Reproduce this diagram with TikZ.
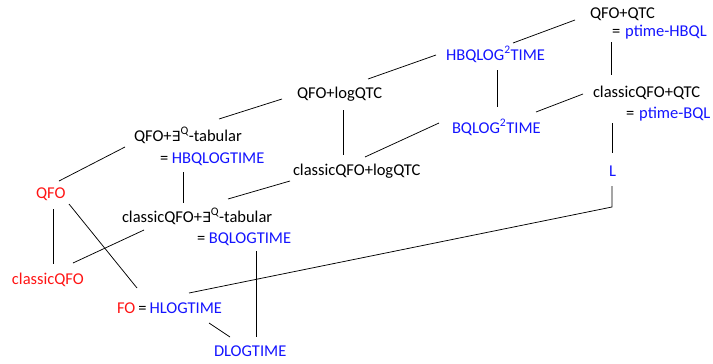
\documentclass[tikz,border=0pt]{standalone}
\usepackage{fontspec}
\setmainfont{Carlito}
\newfontfamily\dejavu{DejaVu Sans}
\usetikzlibrary{calc}
\definecolor{cblue}{RGB}{20,20,255}
\definecolor{cred}{RGB}{255,20,20}
\tikzset{
  lbl/.style={anchor=base west, inner sep=0pt, outer sep=0pt, font=\fontsize{16.5}{19}\selectfont},
  edge/.style={draw=black, line width=0.75pt},
}
\newcommand{\exq}{{\dejavu\fontsize{14}{16}\selectfont ∃}\textsuperscript{Q}}
\newcommand{\sqtwo}{\textsuperscript{2}}
\begin{document}
\begin{tikzpicture}[x=1pt,y=-1pt]
\useasboundingbox (0,0) rectangle (713,364);
\node[lbl] (qtc) at (590,18) {QFO+QTC};
\node[lbl] (phbql) at (612,36) {=\hspace{0.3em}\textcolor{cblue}{ptime-HBQL}};
\node[lbl,text=cblue] (hb2) at (446,60) {HBQLOG\sqtwo TIME};
\node[lbl] (lqtc) at (297,98) {QFO+logQTC};
\node[lbl] (cqtc) at (593,97) {classicQFO+QTC};
\node[lbl] (pbql) at (626,118) {=\hspace{0.3em}\textcolor{cblue}{ptime-BQL}};
\node[lbl,text=cblue] (b2) at (452,133) {BQLOG\sqtwo TIME};
\node[lbl] (etab) at (134,141) {QFO+\exq-tabular};
\node[lbl] (hbql) at (160,163) {=\hspace{0.22em}\textcolor{cblue}{HBQLOGTIME}};
\node[lbl] (clqtc) at (293,175) {classicQFO+logQTC};
\node[lbl,text=cblue] (L) at (609,176) {L};
\node[lbl,text=cred] (qfo) at (36,198) {QFO};
\node[lbl] (cetab) at (122,222) {classicQFO+\exq-tabular};
\node[lbl] (bql) at (197,243) {=\hspace{0.22em}\textcolor{cblue}{BQLOGTIME}};
\node[lbl,text=cred] (cqfo) at (12,284) {classicQFO};
\node[lbl] (fo) at (117,313) {\textcolor{cred}{FO}\hspace{0.18em}=\hspace{0.18em}\textcolor{cblue}{HLOGTIME}};
\node[lbl,text=cblue] (dlog) at (214,356) {DLOGTIME};
\draw[edge] ($(qtc.base west)+(-15,2)$) -- ($(hb2.base west)+(67,-17)$);
\draw[edge] ($(hb2.base west)+(-10,-5)$) -- ($(lqtc.base west)+(71,-19)$);
\draw[edge] ($(lqtc.base west)+(-15,1)$) -- ($(etab.base west)+(85,-22)$);
\draw[edge] ($(hb2.base west)+(51,10)$) -- ($(b2.base west)+(45,-26)$);
\draw[edge] ($(phbql.base west)+(-1,6)$) -- ($(cqtc.base west)+(18,-22)$);
\draw[edge] ($(cqtc.base west)+(-10,-3)$) -- ($(b2.base west)+(84,-21)$);
\draw[edge] ($(b2.base west)+(-13,-10)$) -- ($(clqtc.base west)+(72,-18)$);
\draw[edge] ($(lqtc.base west)+(46,12)$) -- ($(clqtc.base west)+(50,-20)$);
\draw[edge] ($(pbql.base west)+(-14,5)$) -- ($(L.base west)+(3,-23)$);
\draw[edge] ($(hbql.base west)+(23,9)$) -- ($(cetab.base west)+(61,-19)$);
\draw[edge] ($(clqtc.base west)+(-3,6)$) -- ($(cetab.base west)+(106,-23)$);
\draw[edge] ($(etab.base west)+(-9,6)$) -- ($(qfo.base west)+(23,-17)$);
\draw[edge] ($(qfo.base west)+(17,11)$) -- ($(cqfo.base west)+(41,-20)$);
\draw[edge] ($(qfo.base west)+(33,6)$) -- ($(fo.base west)+(20,-25)$);
\draw[edge] ($(cqfo.base west)+(61,-21)$) -- ($(cetab.base west)+(22,8)$);
\draw[edge] ($(L.base west)+(3,10)$) -- ($(L.base west)+(3,31)$) -- ($(fo.base west)+(72,-20)$);
\draw[edge] ($(fo.base west)+(92,10)$) -- ($(dlog.base west)+(16,-19)$);
\draw[edge] ($(bql.base west)+(59,8)$) -- ($(dlog.base west)+(42,-19)$);
\end{tikzpicture}
\end{document}
